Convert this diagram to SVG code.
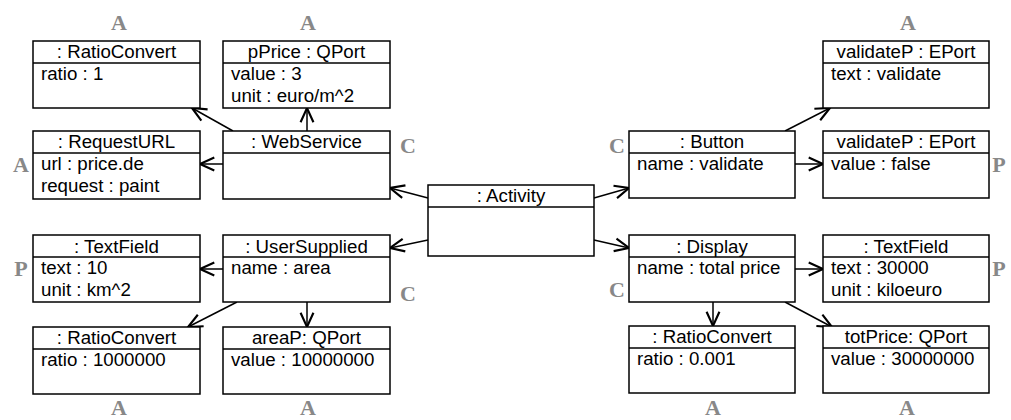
<svg xmlns="http://www.w3.org/2000/svg" width="1011" height="420" viewBox="0 0 1011 420">
<style>
.box{fill:#fff;stroke:#000;stroke-width:1.5}
.sep{stroke:#000;stroke-width:1.5}
.h{font-family:"Liberation Sans",Arial,sans-serif;font-size:18.7px;fill:#000;text-anchor:middle}
.a{font-family:"Liberation Sans",Arial,sans-serif;font-size:18.7px;fill:#000}
.g{font-family:"Liberation Serif","Times New Roman",serif;font-size:22px;font-weight:bold;fill:#888;text-anchor:middle}
.c{stroke:#000;stroke-width:1.5;fill:none;marker-end:url(#arr)}
</style>
<defs>
<marker id="arr" markerUnits="userSpaceOnUse" markerWidth="20" markerHeight="20" viewBox="-12 -7 14 14" refX="0" refY="0" orient="auto">
<path d="M-10,-4.5 L0,0 L-10,4.5" fill="none" stroke="#000" stroke-width="1.5"/>
</marker>
</defs>
<g id="connectors">
<line class="c" x1="233" y1="131" x2="192" y2="108"/>
<line class="c" x1="307" y1="131" x2="307" y2="108"/>
<line class="c" x1="223" y1="164" x2="200" y2="164"/>
<line class="c" x1="428" y1="198" x2="390" y2="188"/>
<line class="c" x1="428" y1="240" x2="390" y2="248"/>
<line class="c" x1="594" y1="198" x2="629" y2="188"/>
<line class="c" x1="594" y1="240" x2="629" y2="248"/>
<line class="c" x1="223" y1="269" x2="200" y2="269"/>
<line class="c" x1="237" y1="302" x2="188" y2="327"/>
<line class="c" x1="307" y1="302" x2="307" y2="327"/>
<line class="c" x1="785" y1="131" x2="830" y2="108"/>
<line class="c" x1="795" y1="164" x2="823" y2="164"/>
<line class="c" x1="795" y1="269" x2="823" y2="269"/>
<line class="c" x1="713" y1="302" x2="713" y2="326"/>
<line class="c" x1="785" y1="302" x2="832" y2="327"/>
</g>
<g id="ratioconvert1">
<rect class="box" x="33" y="41" width="167" height="67"/><line class="sep" x1="33" y1="63" x2="200" y2="63"/>
<text class="h" x="116.5" y="58">: RatioConvert</text>
<text class="a" x="41" y="80">ratio : 1</text>
</g>
<g id="pprice">
<rect class="box" x="223" y="41" width="167" height="67"/><line class="sep" x1="223" y1="63" x2="390" y2="63"/>
<text class="h" x="306.5" y="58">pPrice : QPort</text>
<text class="a" x="231" y="80">value : 3</text>
<text class="a" x="231" y="101.5">unit : euro/m^2</text>
</g>
<g id="requesturl">
<rect class="box" x="33" y="131" width="167" height="68"/><line class="sep" x1="33" y1="153" x2="200" y2="153"/>
<text class="h" x="116.5" y="148">: RequestURL</text>
<text class="a" x="41" y="170">url : price.de</text>
<text class="a" x="41" y="191.5">request : paint</text>
</g>
<g id="webservice">
<rect class="box" x="223" y="131" width="167" height="68"/><line class="sep" x1="223" y1="153" x2="390" y2="153"/>
<text class="h" x="306.5" y="148">: WebService</text>
</g>
<g id="activity">
<rect class="box" x="428" y="185" width="166" height="71"/><line class="sep" x1="428" y1="207" x2="594" y2="207"/>
<text class="h" x="511" y="202">: Activity</text>
</g>
<g id="textfield1">
<rect class="box" x="33" y="235" width="167" height="67"/><line class="sep" x1="33" y1="257" x2="200" y2="257"/>
<text class="h" x="116.5" y="252.5">: TextField</text>
<text class="a" x="41" y="274">text : 10</text>
<text class="a" x="41" y="296">unit : km^2</text>
</g>
<g id="usersupplied">
<rect class="box" x="223" y="235" width="167" height="67"/><line class="sep" x1="223" y1="257" x2="390" y2="257"/>
<text class="h" x="306.5" y="252.5">: UserSupplied</text>
<text class="a" x="231" y="274">name : area</text>
</g>
<g id="ratioconvert2">
<rect class="box" x="33" y="327" width="167" height="67"/><line class="sep" x1="33" y1="349" x2="200" y2="349"/>
<text class="h" x="116.5" y="344">: RatioConvert</text>
<text class="a" x="41" y="366">ratio : 1000000</text>
</g>
<g id="areap">
<rect class="box" x="223" y="327" width="167" height="67"/><line class="sep" x1="223" y1="349" x2="390" y2="349"/>
<text class="h" x="306.5" y="344">areaP: QPort</text>
<text class="a" x="231" y="366">value : 10000000</text>
</g>
<g id="validatep1">
<rect class="box" x="823" y="41" width="166" height="67"/><line class="sep" x1="823" y1="63" x2="989" y2="63"/>
<text class="h" x="906" y="58">validateP : EPort</text>
<text class="a" x="831" y="80">text : validate</text>
</g>
<g id="button">
<rect class="box" x="629" y="131" width="166" height="67"/><line class="sep" x1="629" y1="153" x2="795" y2="153"/>
<text class="h" x="712" y="148">: Button</text>
<text class="a" x="637" y="170">name : validate</text>
</g>
<g id="validatep2">
<rect class="box" x="823" y="131" width="166" height="67"/><line class="sep" x1="823" y1="153" x2="989" y2="153"/>
<text class="h" x="906" y="148">validateP : EPort</text>
<text class="a" x="831" y="170">value : false</text>
</g>
<g id="display">
<rect class="box" x="629" y="235" width="166" height="67"/><line class="sep" x1="629" y1="257" x2="795" y2="257"/>
<text class="h" x="712" y="252.5">: Display</text>
<text class="a" x="637" y="274">name : total price</text>
</g>
<g id="textfield2">
<rect class="box" x="823" y="235" width="166" height="67"/><line class="sep" x1="823" y1="257" x2="989" y2="257"/>
<text class="h" x="906" y="252.5">: TextField</text>
<text class="a" x="831" y="274">text : 30000</text>
<text class="a" x="831" y="296">unit : kiloeuro</text>
</g>
<g id="ratioconvert3">
<rect class="box" x="629" y="326" width="166" height="67"/><line class="sep" x1="629" y1="348" x2="795" y2="348"/>
<text class="h" x="712" y="343">: RatioConvert</text>
<text class="a" x="637" y="365">ratio : 0.001</text>
</g>
<g id="totprice">
<rect class="box" x="823" y="326" width="166" height="67"/><line class="sep" x1="823" y1="348" x2="989" y2="348"/>
<text class="h" x="906" y="343">totPrice: QPort</text>
<text class="a" x="831" y="365">value : 30000000</text>
</g>
<g id="labels">
<text class="g" x="119" y="30">A</text>
<text class="g" x="308" y="30">A</text>
<text class="g" x="908" y="30">A</text>
<text class="g" x="21" y="172">A</text>
<text class="g" x="408" y="153">C</text>
<text class="g" x="617" y="153">C</text>
<text class="g" x="999" y="172">P</text>
<text class="g" x="21" y="276">P</text>
<text class="g" x="408" y="301">C</text>
<text class="g" x="617" y="297">C</text>
<text class="g" x="999" y="276">P</text>
<text class="g" x="119" y="415">A</text>
<text class="g" x="308" y="415">A</text>
<text class="g" x="713" y="415">A</text>
<text class="g" x="907" y="415">A</text>
</g>
</svg>
